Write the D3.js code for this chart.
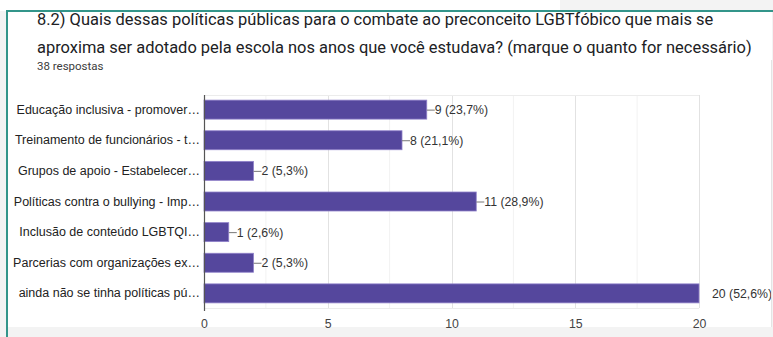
<!DOCTYPE html>
<html>
<head>
<meta charset="utf-8">
<script src="https://cdn.jsdelivr.net/npm/d3@7"></script>
<style>
  html, body { margin: 0; padding: 0; background: #f3f3f3; }
  svg { display: block; }
</style>
</head>
<body>
<svg id="chart" width="773" height="337"></svg>
<script>
// Question text and response counts
const titleLines = [
  "8.2) Quais dessas políticas públicas para o combate ao preconceito LGBTfóbico que mais se",
  "aproxima ser adotado pela escola nos anos que você estudava? (marque o quanto for necessário)"
];
const subtitle = "38 respostas";
const categories = [
  "Educação inclusiva - promover…",
  "Treinamento de funcionários - t…",
  "Grupos de apoio - Estabelecer…",
  "Políticas contra o bullying - Imp…",
  "Inclusão de conteúdo LGBTQI…",
  "Parcerias com organizações ex…",
  "ainda não se tinha políticas pú…"
];
const counts = [9, 8, 2, 11, 1, 2, 20];
const percents = ["23,7%", "21,1%", "5,3%", "28,9%", "2,6%", "5,3%", "52,6%"];
const majorTicks = [0, 5, 10, 15, 20];
const minorTicks = [2.5, 7.5, 12.5, 17.5];

const svg = d3.select("#chart");
const W = 773, H = 337;

// clip so the card content stops at its right edge
svg.append("defs").append("clipPath").attr("id", "card")
  .append("rect").attr("x", 0).attr("y", 0).attr("width", 771).attr("height", H);

// page background and card
svg.append("rect").attr("x", 0).attr("y", 0).attr("width", W).attr("height", H).attr("fill", "#f3f3f3");
svg.append("rect").attr("x", 0).attr("y", 0).attr("width", 560).attr("height", 11).attr("fill", "#ffffff");
svg.append("rect").attr("x", 8).attr("y", 11).attr("width", W - 9).attr("height", 316).attr("fill", "#ffffff");
svg.append("rect").attr("x", 771).attr("y", 60).attr("width", 1).attr("height", 267).attr("fill", "#e4e4e4");
// teal card border (left and top)
svg.append("rect").attr("x", 6).attr("y", 10).attr("width", W - 6).attr("height", 2).attr("fill", "#33958a");
svg.append("rect").attr("x", 6).attr("y", 10).attr("width", 2).attr("height", H - 10).attr("fill", "#33958a");

// title
const title = svg.append("g");
const tFont = "Roboto, 'Noto Sans', sans-serif";
const t2 = title.append("text").attr("x", 37).attr("y", 53)
  .attr("font-family", tFont).attr("font-size", 16).attr("fill", "#202124").text(titleLines[1]);
const fs = 16 * 715 / t2.node().getComputedTextLength();
t2.attr("font-size", fs);
title.append("text").attr("x", 37).attr("y", 25)
  .attr("font-family", tFont).attr("font-size", fs).attr("fill", "#202124").text(titleLines[0]);
title.append("text").attr("x", 37).attr("y", 70)
  .attr("font-family", tFont).attr("font-size", 11.5).attr("fill", "#3c3c3c").text(subtitle);

// scales
const x = d3.scaleLinear().domain([0, 20]).range([204, 699]);
const y = d3.scaleBand().domain(categories).range([94, 309]).paddingInner(0.38).paddingOuter(0.2);
const plotTop = 95, plotBottom = 308;
const labelFont = "'Liberation Sans', Arial, sans-serif";

// gridlines
svg.append("g").selectAll("line").data(minorTicks).join("line")
  .attr("x1", d => x(d)).attr("x2", d => x(d)).attr("y1", plotTop).attr("y2", plotBottom)
  .attr("stroke", "#f2f2f2").attr("stroke-width", 1);
svg.append("g").selectAll("line").data(majorTicks.slice(1)).join("line")
  .attr("x1", d => Math.round(x(d)) + 0.5).attr("x2", d => Math.round(x(d)) + 0.5)
  .attr("y1", plotTop).attr("y2", plotBottom)
  .attr("stroke", "#e2e2e2").attr("stroke-width", 1);
svg.append("line").attr("x1", x(0)).attr("x2", x(20)).attr("y1", plotTop + 0.5).attr("y2", plotTop + 0.5)
  .attr("stroke", "#ececec");
svg.append("line").attr("x1", x(0)).attr("x2", x(20)).attr("y1", plotBottom + 0.5).attr("y2", plotBottom + 0.5)
  .attr("stroke", "#ececec");

// bars
svg.append("g").selectAll("rect").data(counts).join("rect")
  .attr("x", x(0))
  .attr("y", (d, i) => y(categories[i]))
  .attr("width", d => x(d) - x(0))
  .attr("height", y.bandwidth())
  .attr("fill", "#55479d")
  .attr("stroke", "#8f80c9").attr("stroke-width", 0.8);

// value labels with leader lines
const vl = svg.append("g").attr("clip-path", "url(#card)");
counts.forEach((d, i) => {
  const cy = y(categories[i]) + y.bandwidth() / 2;
  const txt = `${d} (${percents[i]})`;
  if (d < 20) {
    vl.append("line").attr("x1", x(d)).attr("x2", x(d) + 8).attr("y1", cy + 0.5).attr("y2", cy + 0.5)
      .attr("stroke", "#777").attr("stroke-width", 1);
    vl.append("text").attr("x", x(d) + 8).attr("y", cy + 4.5)
      .attr("font-family", labelFont).attr("font-size", 12.3).attr("fill", "#333").text(txt);
  } else {
    vl.append("text").attr("x", x(d) + 13).attr("y", cy + 4.5)
      .attr("font-family", labelFont).attr("font-size", 12.3).attr("fill", "#333").text(txt);
  }
});

// category axis
const yAxis = svg.append("g").attr("transform", `translate(${x(0)},0)`)
  .call(d3.axisLeft(y).tickSize(0).tickPadding(4));
yAxis.select(".domain").remove();
yAxis.selectAll("text").attr("font-family", labelFont).attr("font-size", 12.5).attr("fill", "#222");
svg.append("line").attr("x1", x(0) + 0.5).attr("x2", x(0) + 0.5).attr("y1", plotTop).attr("y2", plotBottom + 3)
  .attr("stroke", "#555").attr("stroke-width", 1.2);

// value axis
const xAxis = svg.append("g").attr("transform", `translate(0,${plotBottom})`)
  .call(d3.axisBottom(x).tickValues(majorTicks).tickSize(0).tickPadding(11));
xAxis.select(".domain").remove();
xAxis.selectAll("text").attr("font-family", labelFont).attr("font-size", 12.3).attr("fill", "#444");
</script>
</body>
</html>
